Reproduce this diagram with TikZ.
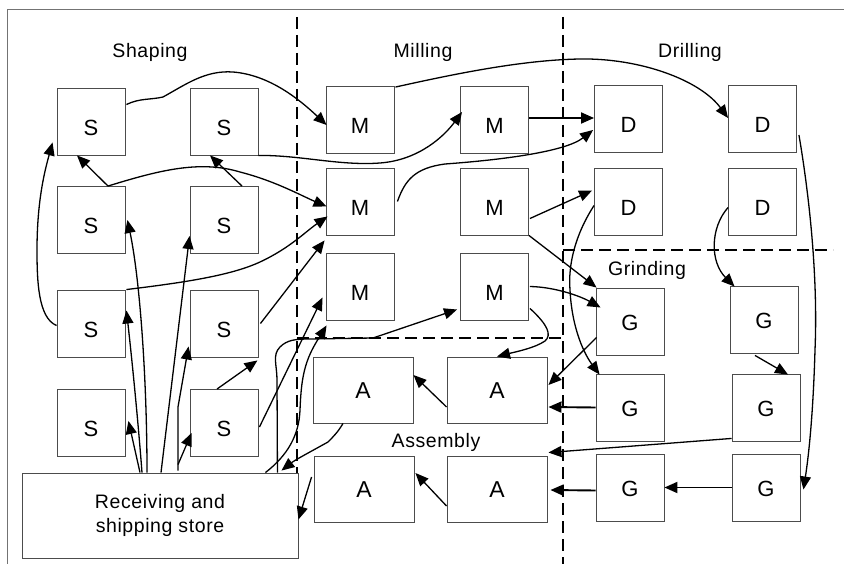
\documentclass[tikz,border=0pt]{standalone}
\usepackage{fontspec}
\setmainfont{Liberation Sans}[LetterSpace=3]
\usetikzlibrary{arrows.meta,calc}
\begin{document}
\begin{tikzpicture}[x=1pt,y=-1pt,
  box/.style={draw=black!70,line width=0.9pt,inner sep=0pt,minimum width=68pt,minimum height=67pt,font=\fontsize{22}{22}\selectfont},
  smd/.style={box,text height=27.5pt,text depth=0pt},
  gbox/.style={box,text height=18.5pt,text depth=0pt},
  abox/.style={box,minimum width=100pt,minimum height=66pt,font=\fontsize{23}{23}\selectfont,text height=16.4pt,text depth=0pt},
  lab/.style={font=\fontsize{19.5}{22}\selectfont,inner sep=0pt},
  conn/.style={line width=1.3pt,-{Triangle[length=13pt,width=11pt]}},
  thick conn/.style={conn,line width=1.9pt},
  dashline/.style={line width=1.5pt,dash pattern=on 12pt off 6pt},
  frameline/.style={draw=black!55,line width=0.9pt}]
\useasboundingbox (0,0) rectangle (844,564);
% frame
\draw[frameline] (7,564) -- (7,9) -- (844,9);
% dashed area separators
\draw[dashline] (297,17) -- (297,473);
\draw[dashline] (563,17) -- (563,564);
\draw[dashline] (563,250) -- (833,250);
\draw[dashline] (297,338) -- (563,338);
% labels
\node[lab] (lShaping) at (150,52) {Shaping};
\node[lab] (lMilling) at (423,52) {Milling};
\node[lab] (lDrilling) at (690,52) {Drilling};
\node[lab] (lGrinding) at (647,270) {Grinding};
\node[lab] (lAssembly) at (436,442) {Assembly};
% shaping
\node[smd] (S11) at (91,121.5) {S};
\node[smd] (S12) at (224,121.5) {S};
\node[smd] (S21) at (91,220) {S};
\node[smd] (S22) at (224,220) {S};
\node[smd] (S31) at (91,323.5) {S};
\node[smd] (S32) at (224,323.5) {S};
\node[smd] (S41) at (91,423) {S};
\node[smd] (S42) at (224,423) {S};
% milling
\node[smd] (M11) at (360,120) {M};
\node[smd] (M12) at (494.5,120) {M};
\node[smd] (M21) at (360,201.5) {M};
\node[smd] (M22) at (494.5,201.5) {M};
\node[smd] (M31) at (360,286.5) {M};
\node[smd] (M32) at (494.5,286.5) {M};
% drilling
\node[smd] (D11) at (628.5,119) {D};
\node[smd] (D12) at (762.5,119) {D};
\node[smd] (D21) at (628.5,201.5) {D};
\node[smd] (D22) at (762.5,201.5) {D};
% grinding
\node[gbox] (G11) at (630,321.5) {G};
\node[gbox] (G12) at (764,319.5) {G};
\node[gbox] (G21) at (630,407.5) {G};
\node[gbox] (G22) at (766,407.5) {G};
\node[gbox] (G31) at (630,487.5) {G};
\node[gbox] (G32) at (766,487.5) {G};
% assembly
\node[abox] (A1) at (363,390) {A};
\node[abox] (A2) at (497,390) {A};
\node[abox] (A3) at (364,489) {A};
\node[abox] (A4) at (497,489) {A};
% receiving
\node[draw=black!70,line width=0.9pt,minimum width=276pt,minimum height=85pt,align=center,font=\fontsize{19.5}{24}\selectfont] (R) at (160,515.5) {Receiving and\\shipping store};
% connectors
\draw[conn] ($(S11.east)+(1,-17)$) .. controls (140,98) and (150,100) .. (163,97) .. controls (185,85) and (205,70) .. (233,72) .. controls (270,75) and (300,100) .. ($(M11.west)+(1,5)$);
\draw[conn] (S12.south east) .. controls (300,155) and (340,166) .. (380,163) .. controls (420,160) and (445,135) .. ($(M12.west)+(2,-8)$);
\draw[conn] ($(S21.north)+(17,0)$) -- ($(S11.south)+(-14,0)$);
\draw[conn] ($(S21.north)+(17,0)$) .. controls (160,170) and (200,160) .. (240,172) .. controls (275,181) and (300,195) .. ($(M21.west)+(1,5)$);
\draw[conn] ($(S22.north)+(18,0)$) -- ($(S12.south)+(-14,0)$);
\draw[conn] ($(S31.west)+(0,2)$) .. controls (38,318) and (37,280) .. (37,250) .. controls (37,200) and (45,170) .. ($(S11.south west)+(-4,-13)$);
\draw[conn] ($(S31.north east)+(1,0)$) .. controls (180,283) and (230,276) .. (260,262) .. controls (290,248) and (305,232) .. ($(M21.west)+(2,15)$);
\draw[conn] ($(S32.east)+(2,0)$) -- ($(M21.south west)+(-1,5)$);
\draw[conn] ($(S42.north)+(-7,0)$) -- ($(S32.south east)+(-1,3)$);
\draw[conn] ($(S42.east)+(1,4)$) -- ($(M31.west)+(-3,11)$);
\draw[conn] ($(R.north)+(-20,0)$) -- ($(S41.east)+(3,-2)$);
\draw[conn] ($(R.north)+(-18,0)$) .. controls (138,420) and (132,360) .. ($(S31.east)+(1,-13)$);
\draw[conn] ($(R.north)+(-13,0)$) .. controls (147,380) and (140,280) .. ($(S21.east)+(2,0)$);
\draw[conn] ($(R.north)+(1,0)$) -- ($(S22.west)+(0,16)$);
\draw[conn] ($(R.north)+(18,-2)$) -- (178,407) -- ($(S32.west)+(-1,23)$);
\draw[conn] ($(R.north)+(18,-8)$) -- ($(S42.west)+(2,10)$);
\draw[conn] ($(R.north east)+(-33,0)$) .. controls (288,455) and (299,435) .. (300,410) .. controls (301,385) and (303,368) .. (312,350) .. controls (316,342) and (322,333) .. ($(M31.south west)+(1,5)$);
\draw[conn] ($(R.north east)+(-21,0)$) -- (277,380) .. controls (277,365) and (272,355) .. (280,347) .. controls (287,340) and (295,339) .. (310,339) -- (373,338) -- ($(M32.west)+(-3,23)$);
\draw[conn] ($(A1.south)+(-20,0)$) .. controls (338,432) and (333,437) .. (328,442) .. controls (310,452) and (295,460) .. ($(R.north east)+(-17,-2)$);
\draw[conn] ($(A3.west)+(-2,-12)$) -- ($(R.east)+(0,4)$);
\draw[conn] ($(M11.north east)+(1,1)$) .. controls (450,75) and (520,60) .. (580,59) .. controls (640,58) and (700,80) .. ($(D12.west)+(0,-1)$);
\draw[thick conn] ($(M12.east)+(0,-2)$) -- ($(D11.west)+(0,-1)$);
\draw[conn] ($(M21.east)+(3,0)$) .. controls (405,180) and (415,168) .. (445,164) .. controls (500,160) and (565,152) .. ($(D11.west)+(-1,11)$);
\draw[conn] ($(M22.east)+(1,17)$) -- ($(D21.west)+(-2,-11)$);
\draw[conn] (M22.south east) -- ($(G11.north west)+(1,0)$);
\draw[conn] ($(M32.east)+(1,0)$) .. controls (555,287) and (580,296) .. ($(G11.west)+(5,-14)$);
\draw[conn] ($(M32.south east)+(1,-12)$) .. controls (548,325) and (552,335) .. (545,341) .. controls (535,348) and (515,352) .. (A2.north);
\draw[conn] ($(G11.west)+(1,16)$) -- ($(A2.east)+(1,-5)$);
\draw[thick conn] (G21.west) -- ($(A2.east)+(1,17)$);
\draw[conn] ($(D21.west)+(0,4)$) .. controls (575,235) and (568,265) .. (570,290) .. controls (572,330) and (585,355) .. ($(G21.north west)+(4,1)$);
\draw[conn] ($(D22.west)+(0,6)$) .. controls (710,228) and (710,262) .. ($(G12.north west)+(5,1)$);
\draw[conn] ($(D12.east)+(2,16)$) .. controls (810,200) and (818,280) .. (815,350) .. controls (813,420) and (808,460) .. ($(G32.east)+(3,2)$);
\draw[conn] ($(G12.south)+(-9,2)$) -- ($(G22.north)+(22,1)$);
\draw[conn] ($(G22.south west)+(0,-3)$) -- ($(A4.north east)+(1,-3)$);
\draw[thick conn] (G32.west) -- (G31.east);
\draw[thick conn] ($(G31.west)+(0,3)$) -- ($(A4.east)+(3,1)$);
\draw[conn] ($(A2.west)+(0,17)$) -- ($(A1.east)+(0,-15)$);
\draw[conn] ($(A4.west)+(0,17)$) -- ($(A3.east)+(1,-16)$);
\end{tikzpicture}
\end{document}
